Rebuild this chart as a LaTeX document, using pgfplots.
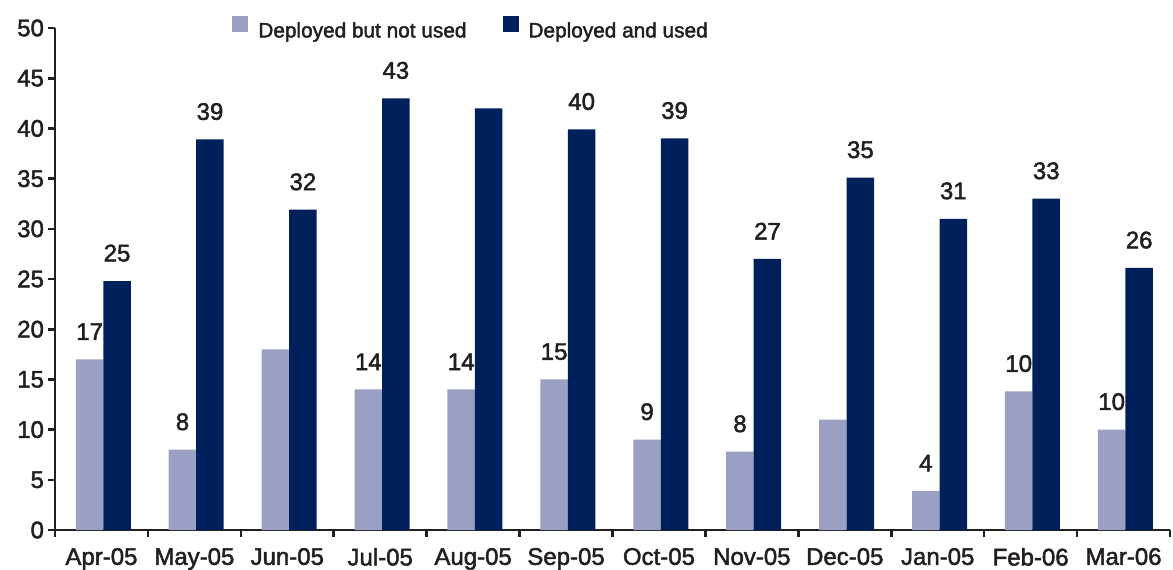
\documentclass[border=0pt]{standalone}
\usepackage{fontspec}
\setmainfont{Liberation Sans}[FakeBold=2]
\usepackage{pgfplots}
\usepackage{pgfplotstable}
\pgfplotsset{compat=1.18}
\definecolor{lightbar}{HTML}{9AA0C3}
\definecolor{darkbar}{HTML}{00205B}
\definecolor{txt}{HTML}{231F20}
\pgfplotstableread{
x y lab
0 17 17
1 8 8
2 18 {}
3 14 14
4 14 14
5 15 15
6 9 9
7 7.8 8
8 11.0 {}
9 3.9 4
10 13.8 10
11 10.0 10
}\lightdata
\pgfplotstableread{
x y lab
0 24.8 25
1 38.9 39
2 31.9 32
3 43.0 43
4 42.0 {}
5 39.9 40
6 39.0 39
7 27.0 27
8 35.1 35
9 31.0 31
10 33.0 33
11 26.1 26
}\darkdata
\begin{document}
\begin{tikzpicture}[x=1pt,y=1pt]
\useasboundingbox (-27.5,-19.5) rectangle (559,265);
\begin{axis}[
  at={(0,0)}, anchor=south west, scale only axis,
  width=557.5pt, height=251pt,
  xmin=-0.5, xmax=11.5, ymin=0, ymax=50,
  axis x line*=bottom, axis y line*=left,
  axis line style={txt, line width=1.3pt},
  every tick/.style={txt, line width=1.3pt},
  tick align=outside, major tick length=3.5pt,
  xtick={-0.5,0.5,...,11.5},
  x tick label as interval,
  xticklabels={Apr-05,May-05,Jun-05,Jul-05,Aug-05,Sep-05,Oct-05,Nov-05,Dec-05,Jan-05,Feb-06,Mar-06},
  ytick={0,5,...,50},
  tick label style={font=\fontsize{12}{14}\selectfont, text=txt},
  xticklabel style={yshift=-2pt},
  yticklabel style={xshift=1.5pt},
  /pgf/number format/assume math mode=true,
  clip=false,
  legend columns=2,
  legend style={at={(0.1587,1)}, anchor=west, draw=none, fill=none, inner sep=0pt,
    font=\fontsize{10.4}{13}\selectfont, text=txt,
    nodes={inner sep=0pt},
    /tikz/every odd column/.append style={column sep=5pt},
    /tikz/every even column/.append style={column sep=18pt}},
  point meta=explicit symbolic,
  every node near coord/.append style={font=\fontsize{12}{14}\selectfont, text=txt, anchor=south, inner sep=0pt, yshift=9.5pt},
]
\addplot[ybar, bar width=0.296, bar shift=-0.128, fill=lightbar, draw=none,
  legend image code/.code={\fill[lightbar] (0pt,-0.1pt) rectangle (8pt,7.9pt);}]
  table[x=x, y=y] {\lightdata};
\addlegendentry{Deployed but not used}
\addplot[ybar, bar width=0.296, bar shift=0.168, fill=darkbar, draw=none,
  legend image code/.code={\fill[darkbar] (0pt,-0.1pt) rectangle (8pt,7.9pt);}]
  table[x=x, y=y] {\darkdata};
\addlegendentry{Deployed and used}
\addplot[only marks, mark=none, nodes near coords, forget plot]
  table[x expr=\thisrow{x}-0.128, y=y, meta=lab] {\lightdata};
\addplot[only marks, mark=none, nodes near coords, forget plot]
  table[x expr=\thisrow{x}+0.168, y=y, meta=lab] {\darkdata};
\end{axis}
\end{tikzpicture}
\end{document}
